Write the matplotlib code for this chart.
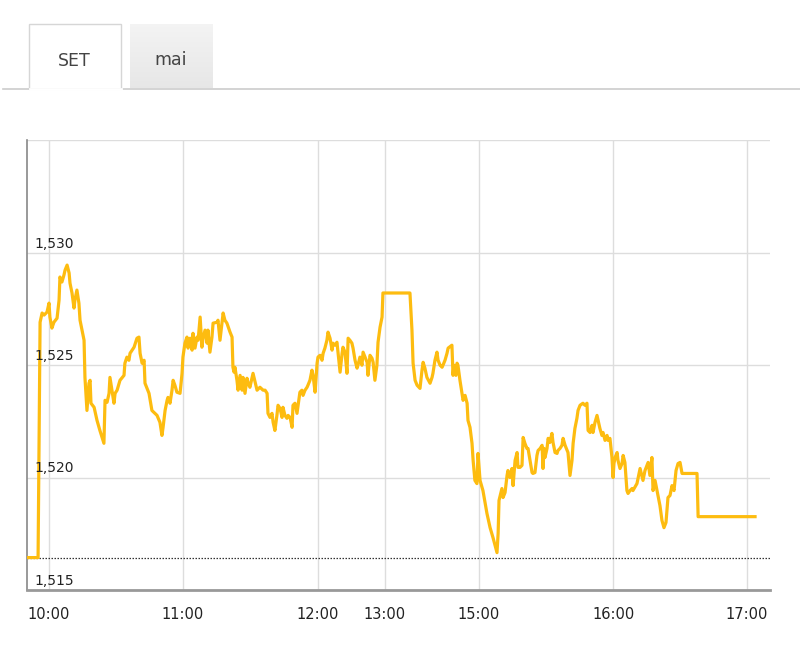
import matplotlib
matplotlib.use("Agg")
import matplotlib.pyplot as plt
import numpy as np
from matplotlib.patches import Rectangle
from matplotlib.lines import Line2D

# ---- data (x = position on the chart's trading-time axis, in minutes from 10:00) ----
times = [-9.5, -4.9, -4.0, -3.1, -2.2, -0.9, 0.0, 0.4, 1.3, 2.2, 3.6, 4.5, 4.9, 5.8, 6.7, 7.2, 8.1, 9.0, 9.4, 10.3,
         11.2, 11.6, 12.5, 13.4, 13.9, 15.7, 16.1, 17.0, 17.9, 18.4, 18.8, 20.2, 21.5, 22.8, 24.6, 25.1, 26.0, 26.9,
         27.3, 28.2, 29.1, 29.6, 30.5, 31.8, 33.6, 34.0, 34.9, 35.8, 36.3, 38.1, 39.4, 40.3, 40.8, 41.7, 42.6, 43.0,
         44.8, 46.1, 48.4, 49.7, 50.6, 51.1, 52.0, 52.9, 53.3, 54.2, 55.1, 55.6, 56.4, 57.3, 58.7, 59.6, 60.0, 60.9,
         61.8, 62.3, 63.2, 64.1, 64.5, 65.4, 66.3, 66.8, 67.7, 68.5, 69.0, 69.9, 70.8, 71.2, 72.1, 73.0, 73.5, 75.3,
         75.7, 76.6, 77.5, 78.0, 78.8, 79.7, 81.1, 82.0, 82.4, 82.9, 83.3, 84.2, 84.7, 85.6, 86.5, 86.9, 87.8, 88.7,
         89.2, 90.0, 91.4, 93.2, 94.5, 95.9, 96.8, 97.7, 98.1, 99.0, 99.9, 100.4, 101.2, 102.1, 102.6, 103.5, 104.4,
         104.8, 105.7, 106.6, 107.1, 108.0, 108.9, 109.3, 110.2, 111.1, 111.6, 112.4, 113.3, 113.8, 114.7, 115.6,
         116.0, 116.9, 117.8, 118.3, 119.2, 120.1, 120.5, 121.4, 122.3, 122.8, 123.6, 124.5, 125.0, 125.9, 126.8,
         127.2, 128.1, 129.0, 129.5, 130.4, 131.3, 131.7, 132.6, 133.5, 134.0, 134.8, 135.7, 136.2, 137.1, 138.0,
         138.4, 139.3, 140.2, 140.7, 141.6, 142.5, 142.9, 143.8, 144.7, 145.2, 146.0, 146.9, 147.4, 148.3, 149.2,
         149.6, 161.7, 162.6, 163.1, 164.0, 164.9, 166.2, 167.1, 167.6, 168.4, 169.3, 170.7, 171.6, 172.0, 172.9,
         173.8, 174.3, 175.2, 176.1, 176.5, 177.4, 178.3, 178.8, 180.5, 181.0, 181.4, 182.3, 182.8, 183.2, 184.1,
         185.0, 185.5, 186.4, 187.3, 187.7, 188.6, 189.5, 190.0, 190.8, 191.7, 192.2, 193.1, 194.4, 196.2, 197.6,
         198.9, 200.7, 201.2, 201.6, 202.9, 203.4, 204.3, 205.2, 205.6, 206.5, 207.4, 207.9, 208.8, 209.7, 210.1,
         211.0, 211.9, 212.4, 213.2, 214.1, 214.6, 215.5, 216.4, 216.8, 217.7, 218.6, 219.1, 220.0, 220.9, 221.3,
         221.8, 222.2, 223.1, 223.6, 224.4, 225.3, 225.8, 226.7, 227.6, 228.0, 228.9, 229.8, 230.3, 231.2, 232.1,
         232.5, 233.4, 234.3, 234.8, 235.6, 236.5, 237.0, 237.9, 239.2, 240.1, 241.0, 241.5, 242.4, 243.3, 243.7,
         244.6, 245.5, 246.0, 246.8, 247.7, 248.2, 249.1, 250.0, 250.4, 251.3, 252.2, 252.7, 253.1, 253.6, 254.5,
         254.9, 255.8, 256.7, 257.2, 258.0, 258.9, 259.4, 260.3, 261.2, 261.6, 263.4, 264.8, 266.1, 267.0, 268.4,
         269.2, 270.1, 270.6, 271.5, 272.8, 273.7, 274.6, 275.5, 276.4, 277.3, 278.2, 279.1, 280.0, 280.9, 281.8,
         282.7, 283.6, 290.3, 290.8, 316.3]

prices = [1516.44, 1516.44, 1526.90, 1527.31, 1527.22, 1527.35, 1527.75, 1527.13, 1526.64, 1526.90, 1527.08,
          1527.88, 1528.91, 1528.69, 1529.00, 1529.22, 1529.44, 1529.09, 1528.64, 1528.20, 1527.53, 1527.88,
          1528.33, 1527.75, 1526.99, 1526.10, 1524.45, 1522.98, 1524.19, 1524.32, 1523.30, 1523.12, 1522.54,
          1522.09, 1521.52, 1523.43, 1523.34, 1523.74, 1524.45, 1523.88, 1523.30, 1523.74, 1523.88, 1524.32,
          1524.54, 1525.08, 1525.35, 1525.21, 1525.52, 1525.79, 1526.19, 1526.24, 1525.52, 1525.08, 1525.21,
          1524.19, 1523.74, 1522.98, 1522.76, 1522.45, 1521.87, 1522.23, 1522.98, 1523.43, 1523.56, 1523.30,
          1523.88, 1524.32, 1524.10, 1523.79, 1523.74, 1524.63, 1525.35, 1525.97, 1526.24, 1525.75, 1526.19,
          1525.66, 1526.41, 1525.75, 1526.24, 1526.10, 1527.13, 1525.79, 1526.19, 1526.55, 1525.97, 1526.55,
          1525.57, 1526.24, 1526.86, 1526.90, 1526.99, 1526.10, 1526.90, 1527.31, 1526.99, 1526.86, 1526.46,
          1526.24, 1524.90, 1524.68, 1524.90, 1524.32, 1523.88, 1524.54, 1523.88, 1524.45, 1523.74, 1524.41,
          1524.19, 1524.01, 1524.63, 1523.88, 1524.01, 1523.88, 1523.88, 1523.74, 1522.85, 1522.67, 1522.85,
          1522.45, 1522.09, 1522.76, 1523.21, 1523.07, 1522.67, 1523.12, 1522.76, 1522.63, 1522.76, 1522.67,
          1522.23, 1523.21, 1523.30, 1522.85, 1523.21, 1523.79, 1523.88, 1523.65, 1523.88, 1524.01, 1524.10,
          1524.32, 1524.77, 1524.54, 1523.79, 1525.08, 1525.35, 1525.43, 1525.21, 1525.52, 1525.75, 1526.10,
          1526.46, 1526.19, 1525.66, 1525.97, 1525.88, 1526.01, 1525.52, 1524.68, 1525.52, 1525.79, 1525.57,
          1524.63, 1526.19, 1526.10, 1525.97, 1525.75, 1525.21, 1524.86, 1524.99, 1525.35, 1524.99, 1525.57,
          1525.35, 1525.12, 1524.54, 1525.43, 1525.30, 1525.12, 1524.32, 1524.99, 1526.01, 1526.68, 1527.13,
          1528.20, 1528.20, 1526.55, 1525.08, 1524.32, 1524.10, 1523.96, 1524.77, 1525.12, 1524.86, 1524.45,
          1524.19, 1524.45, 1524.63, 1525.21, 1525.57, 1525.21, 1524.99, 1524.90, 1524.99, 1525.21, 1525.52,
          1525.75, 1525.88, 1524.54, 1524.99, 1524.54, 1525.08, 1524.99, 1524.32, 1523.74, 1523.43, 1523.65,
          1523.30, 1522.54, 1522.23, 1521.52, 1520.76, 1519.87, 1519.73, 1521.07, 1519.87, 1519.42, 1518.40,
          1517.77, 1517.33, 1516.66, 1517.51, 1518.98, 1519.51, 1519.11, 1519.33, 1520.09, 1520.31, 1520.00,
          1520.40, 1519.64, 1520.76, 1521.11, 1520.45, 1520.45, 1520.54, 1521.78, 1521.52, 1521.29, 1521.29,
          1520.76, 1520.22, 1520.18, 1520.22, 1520.98, 1521.20, 1521.29, 1521.43, 1520.40, 1521.29, 1520.89,
          1521.29, 1521.74, 1521.56, 1521.96, 1521.56, 1521.11, 1521.07, 1521.20, 1521.29, 1521.43, 1521.74,
          1521.43, 1521.20, 1521.11, 1520.09, 1520.76, 1521.52, 1522.18, 1522.63, 1522.98, 1523.21, 1523.30,
          1523.21, 1523.30, 1522.09, 1522.00, 1522.32, 1522.00, 1522.45, 1522.76, 1522.54, 1522.18, 1521.87,
          1522.00, 1521.65, 1521.87, 1521.65, 1521.74, 1520.89, 1520.00, 1520.62, 1520.89, 1521.11, 1520.76,
          1520.40, 1520.62, 1520.98, 1520.67, 1519.42, 1519.29, 1519.42, 1519.51, 1519.42, 1519.73, 1520.40,
          1519.87, 1520.31, 1520.67, 1520.09, 1520.89, 1519.42, 1519.87, 1519.20, 1518.75, 1518.09, 1517.77,
          1518.00, 1519.11, 1519.20, 1519.64, 1519.42, 1520.31, 1520.62, 1520.67, 1520.18, 1520.18, 1518.26,
          1518.26]

prev_close = 1516.42
tick_minutes = [0, 60.0, 120.5, 150.5, 192.6, 252.7, 312.7]
tick_labels = ["10:00", "11:00", "12:00", "13:00", "15:00", "16:00", "17:00"]
y_ticks = [1515, 1520, 1525, 1530, 1535]
y_labels = ["1,515", "1,520", "1,525", "1,530", ""]
tabs = ["SET", "mai"]

# ---- figure ----
W, H = 800, 649
fig = plt.figure(figsize=(W / 100, H / 100), dpi=100)
fig.patch.set_facecolor("white")


def fx(px):
    return px / W


def fy(py):
    return 1 - py / H


ax = fig.add_axes([fx(27), fy(590), fx(770) - fx(27), fy(140) - fy(590)])
ax.set_xlim(-9.86, 323.0)
ax.set_ylim(1515, 1535)

ax.plot(times, prices, color="#FDBC10", lw=2.3, solid_joinstyle="round", zorder=3)
ax.axhline(prev_close, color="#333333", lw=0.9, ls=(0, (1.2, 1.2)), zorder=2)

ax.set_xticks(tick_minutes)
ax.set_xticklabels(tick_labels)
ax.set_yticks(y_ticks)
ax.set_yticklabels([])
ax.grid(True, color="#dddddd", lw=1.0, zorder=0)
ax.tick_params(axis="both", length=0)
ax.tick_params(axis="x", pad=12, labelsize=10.5, labelcolor="#222222")

for sp in ["top", "right"]:
    ax.spines[sp].set_visible(False)
ax.spines["left"].set_color("#888888")
ax.spines["left"].set_linewidth(1.2)
ax.spines["bottom"].set_color("#999999")
ax.spines["bottom"].set_linewidth(2.0)

for val, lab in zip(y_ticks, y_labels):
    if lab:
        ax.annotate(lab, xy=(0, val), xycoords=("axes fraction", "data"),
                    xytext=(7, 2), textcoords="offset pixels",
                    ha="left", va="bottom", fontsize=10, color="#222222")

# ---- tabs ----
fig.add_artist(Line2D([fx(3), fx(800)], [fy(89), fy(89)], color="#cccccc", lw=1.2))
fig.add_artist(Rectangle((fx(29), fy(89)), fx(121) - fx(29), fy(24) - fy(89),
                         facecolor="white", edgecolor="#d6d6d6", lw=1.0))
fig.add_artist(Line2D([fx(29.5), fx(120.5)], [fy(89), fy(89)], color="white", lw=2.0))
# inactive tab with a soft vertical gradient
tab_ax = fig.add_axes([fx(130), fy(88), fx(213) - fx(130), fy(24) - fy(88)])
grad = np.linspace(0.955, 0.905, 64).reshape(-1, 1)
tab_ax.imshow(np.dstack([grad, grad, grad]), aspect="auto", extent=(0, 1, 0, 1))
tab_ax.set_axis_off()
fig.text(fx(74), fy(61), tabs[0], ha="center", va="center", fontsize=12.5, color="#444444")
fig.text(fx(171), fy(60), tabs[1], ha="center", va="center", fontsize=12.5, color="#444444")

fig.savefig("out.png", dpi=100, facecolor="white")
